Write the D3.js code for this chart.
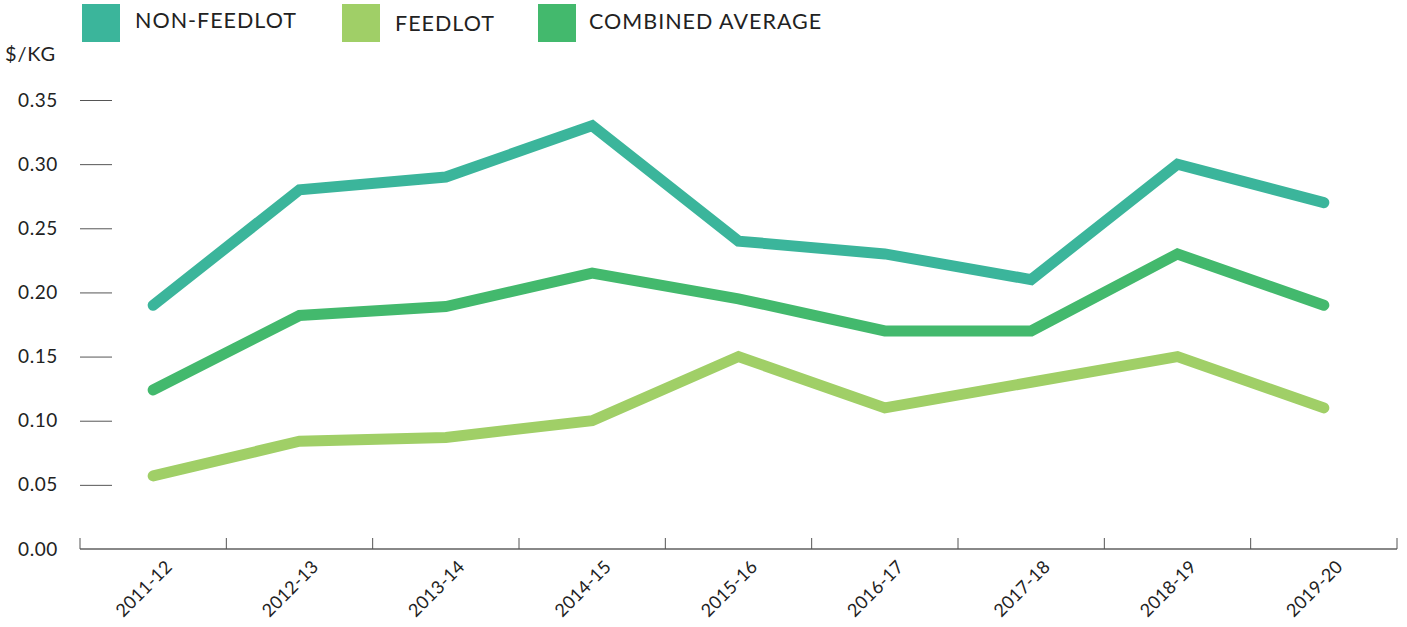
<!DOCTYPE html>
<html>
<head>
<meta charset="utf-8">
<script src="https://cdn.jsdelivr.net/npm/d3@7"></script>
<style>
    body { margin: 0; background: #fff; }
    svg text { font-family: Lato, "Open Sans", sans-serif; fill: #222; }
</style>
</head>
<body>
<svg id="chart" width="1407" height="627"></svg>
<script>
// chart data
var years = ["2011-12", "2012-13", "2013-14", "2014-15", "2015-16", "2016-17", "2017-18", "2018-19", "2019-20"];
var nonFeedlot = [0.19, 0.28, 0.29, 0.33, 0.24, 0.23, 0.21, 0.30, 0.27];
var feedlot = [0.057, 0.084, 0.087, 0.10, 0.15, 0.11, 0.13, 0.15, 0.11];
var combined = [0.124, 0.182, 0.189, 0.215, 0.195, 0.17, 0.17, 0.23, 0.19];
var yTicks = [0, 0.05, 0.10, 0.15, 0.20, 0.25, 0.30, 0.35];
var seriesNames = ["NON-FEEDLOT", "FEEDLOT", "COMBINED AVERAGE"];

var colors = ["#3bb59b", "#a0cf67", "#43b96d"];

var svg = d3.select("#chart");

var x = d3.scaleBand()
    .domain(years)
    .range([80, 1397]);

var y = d3.scaleLinear()
    .domain([0, 0.35])
    .range([549, 100]);

// y ticks (short lines, no axis line)
var yAxis = svg.append("g")
    .attr("transform", "translate(80,0)")
    .call(d3.axisRight(y).tickValues(yTicks).tickSize(32).tickFormat(d3.format(".2f")));
yAxis.select(".domain").remove();
yAxis.selectAll(".tick line").attr("stroke", "#555");
yAxis.selectAll(".tick text")
    .attr("x", -22)
    .attr("dy", "0.32em")
    .attr("text-anchor", "end")
    .style("font-size", "19px")
    .style("letter-spacing", "0.6px");

// x axis
var xAxis = svg.append("g")
    .attr("transform", "translate(0,549)");
xAxis.append("line")
    .attr("x1", 80).attr("x2", 1397)
    .attr("stroke", "#888").attr("stroke-width", 2);
var bounds = years.map(function (d) { return x(d); }).concat([x.range()[1]]);
xAxis.selectAll("line.tk")
    .data(bounds)
    .enter()
    .append("line")
    .attr("class", "tk")
    .attr("x1", function (d) { return d; })
    .attr("x2", function (d) { return d; })
    .attr("y1", -11).attr("y2", 0)
    .attr("stroke", "#555");
xAxis.selectAll("text")
    .data(years)
    .enter()
    .append("text")
    .attr("transform", function (d) {
        return "translate(" + (x(d) + x.bandwidth() / 2 + 20) + ",19) rotate(-45)";
    })
    .attr("text-anchor", "end")
    .style("font-size", "18px")
    .style("letter-spacing", "0.2px")
    .text(function (d) { return d; });

// unit label
svg.append("text")
    .attr("x", 5).attr("y", 61)
    .style("font-size", "20px")
    .style("letter-spacing", "0.8px")
    .text("$/KG");

// lines
var line = d3.line()
    .x(function (d, i) { return x(years[i]) + x.bandwidth() / 2; })
    .y(function (d) { return y(d); });

var allSeries = [nonFeedlot, feedlot, combined];
svg.append("g")
    .selectAll("path")
    .data(allSeries)
    .enter()
    .append("path")
    .attr("d", line)
    .attr("fill", "none")
    .attr("stroke", function (d, i) { return colors[i]; })
    .attr("stroke-width", 11)
    .attr("stroke-linecap", "round")
    .attr("stroke-linejoin", "miter");

// legend
var legendX = [82, 342, 538];
var legendTextY = [28, 31, 29];
var legend = svg.append("g")
    .selectAll("g")
    .data(seriesNames)
    .enter()
    .append("g")
    .attr("transform", function (d, i) { return "translate(" + legendX[i] + ",4)"; });
legend.append("rect")
    .attr("width", 38).attr("height", 38)
    .attr("fill", function (d, i) { return colors[i]; });
legend.append("text")
    .attr("x", function (d, i) { return i == 2 ? 51 : 53; })
    .attr("y", function (d, i) { return legendTextY[i] - 4; })
    .style("font-size", "21.5px")
    .style("letter-spacing", "1px")
    .text(function (d) { return d; });
</script>
</body>
</html>
